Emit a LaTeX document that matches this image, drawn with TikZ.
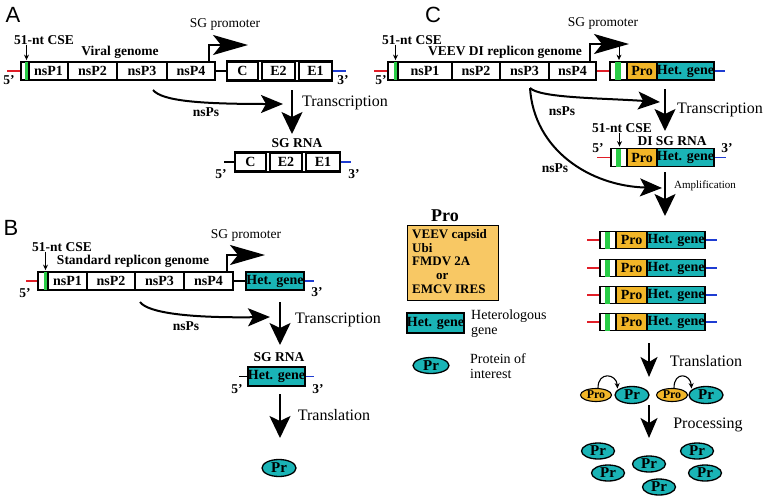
\documentclass[tikz,border=0pt]{standalone}
\usepackage{fontspec}
\setmainfont{Liberation Serif}
\newfontfamily\panelfont{Liberation Sans}
\usetikzlibrary{arrows.meta,calc,shapes.geometric}
\definecolor{cgreen}{RGB}{40,205,70}
\definecolor{hetc}{RGB}{26,180,182}
\definecolor{proy}{RGB}{242,182,40}
\definecolor{legy}{RGB}{248,200,100}
\definecolor{cred}{RGB}{225,30,40}
\definecolor{cblue}{RGB}{30,60,210}
\begin{document}
\begin{tikzpicture}[x=1pt,y=-1pt,
 seg/.style={draw, line width=1.8pt, fill=white, minimum height=18pt, inner sep=0pt, font=\bfseries\fontsize{14}{14}\selectfont},
 het/.style={seg, fill=hetc},
 prob/.style={seg, fill=proy},
 lbl/.style={font=\bfseries\fontsize{13.5}{14}\selectfont, inner sep=0pt},
 txt/.style={font=\fontsize{13.5}{14}\selectfont, inner sep=0pt},
 bigtxt/.style={font=\fontsize{16}{16}\selectfont, inner sep=0pt},
 smalltxt/.style={font=\fontsize{11}{11}\selectfont, inner sep=0pt},
 panel/.style={font=\panelfont\fontsize{22}{22}\selectfont, inner sep=0pt},
 redl/.style={cred, line width=1.8pt},
 bluel/.style={cblue, line width=1.8pt},
 blackl/.style={black, line width=1.8pt},
 bigarrow/.style={line width=2pt, -{Stealth[length=22pt,width=21pt,inset=5pt]}},
 midarrow/.style={line width=2pt, -{Stealth[length=20pt,width=17pt,inset=5pt]}},
 curvearrow/.style={line width=2pt, -{Stealth[length=22pt,width=18pt,inset=5pt]}},
 promarrow/.style={line width=1.8pt, -{Stealth[length=35pt,width=20pt,inset=8pt]}},
 csearrow/.style={line width=1pt, -{Stealth[length=5.5pt,width=5pt]}},
 hookarrow/.style={line width=1.1pt, -{Stealth[length=5.5pt,width=5pt]}},
 prell/.style={ellipse, draw, line width=1.3pt, fill=hetc, minimum width=34pt, minimum height=17pt, inner sep=0pt, font=\bfseries\fontsize{15}{15}\selectfont},
 proell/.style={ellipse, draw, line width=1.1pt, fill=proy, minimum width=31pt, minimum height=13pt, inner sep=0pt, font=\bfseries\fontsize{12}{12}\selectfont}
]
\useasboundingbox (0,0) rectangle (765,498);

% ================= Panel A =================
\node[panel] (lA) at (13,15) {A};
\node[lbl] (cseA) at (44,40) {51-nt CSE};
\node[lbl] (gA) at (120,52) {Viral genome};
\node[txt] (sgpA) at (225,24) {SG promoter};
\node[seg, minimum width=8pt] (sA) at (25,71) {};
\fill[cgreen] ($(sA.north east)+(-5,0.9)$) rectangle ($(sA.south east)+(0,-0.9)$);
\node[seg, minimum width=39pt] (a1) at (48.5,71) {nsP1};
\node[seg, minimum width=49pt] (a2) at (92.5,71) {nsP2};
\node[seg, minimum width=50pt] (a3) at (142,71) {nsP3};
\node[seg, minimum width=48pt] (a4) at (191,71) {nsP4};
\node[seg, minimum width=31pt] (aC) at (242.5,71) {C};
\node[seg, minimum width=33pt] (aE2) at (278.5,71) {E2};
\node[seg, minimum width=33pt] (aE1) at (315.5,71) {E1};
\draw[blackl] (aC.north west) -- (aE1.north east) (aC.south west) -- (aE1.south east);
\draw[blackl] (a4.east) -- (aC.west);
\draw[redl] (sA.west) -- ++(-13,0) coordinate (rA);
\draw[bluel] (aE1.east) -- ++(13,0) coordinate (bA);
\node[lbl] (fA) at (9,80) {5'};
\node[lbl] (tA) at (343,80) {3'};
\coordinate (cseTipA) at ($(sA.north)+(1.5,-1)$);
\draw[csearrow] (cseA.south -| cseTipA) -- (cseTipA);
\coordinate (promA) at (248,45);
\draw[promarrow] ($(a4.north east)+(-7,0)$) |- (promA);
\coordinate (nsA0) at (153,90);
\coordinate (nsA1) at (283,104);
\draw[curvearrow] (nsA0) .. controls (162,101) and (200,104) .. (nsA1);
\node[lbl] (nsAl) at (206,112) {nsPs};
\coordinate (trA0) at (292,90);
\coordinate (trA1) at (292,134);
\draw[bigarrow] (trA0) -- (trA1);
\node[bigtxt] (trAl) at (345,103) {Transcription};
\node[lbl] (sgA) at (297,143) {SG RNA};
\node[seg, minimum width=31pt] (bC) at (250.5,162) {C};
\node[seg, minimum width=32pt] (bE2) at (286,162) {E2};
\node[seg, minimum width=34pt] (bE1) at (323,162) {E1};
\draw[blackl] (bC.north west) -- (bE1.north east) (bC.south west) -- (bE1.south east);
\draw[blackl] (bC.west) -- ++(-10,0);
\draw[bluel] (bE1.east) -- ++(10,0);
\node[lbl] (fA2) at (221,174) {5'};
\node[lbl] (tA2) at (354,174) {3'};

% ================= Panel B =================
\node[panel] (lB) at (11,228) {B};
\node[lbl] (cseB) at (62,247) {51-nt CSE};
\node[lbl] (gB) at (133,261.5) {Standard replicon genome};
\node[txt] (sgpB) at (246,235) {SG promoter};
\node[seg, minimum width=10pt] (sB) at (43,281) {};
\fill[cgreen] ($(sB.north east)+(-5,0.9)$) rectangle ($(sB.south east)+(0,-0.9)$);
\node[seg, minimum width=39pt] (b1) at (67.5,281) {nsP1};
\node[seg, minimum width=48pt] (b2) at (111,281) {nsP2};
\node[seg, minimum width=49pt] (b3) at (159.5,281) {nsP3};
\node[seg, minimum width=49pt] (b4) at (208.5,281) {nsP4};
\node[het, minimum width=58pt] (bH) at (275,281) {Het. gene};
\draw[blackl] (b4.east) -- (bH.west);
\draw[redl] (sB.west) -- ++(-11,0);
\draw[bluel] (bH.east) -- ++(9,0);
\node[lbl] (fB) at (25,293) {5'};
\node[lbl] (tB) at (317,292) {3'};
\coordinate (cseTipB) at ($(sB.north)+(2.5,-1)$);
\draw[csearrow] (cseB.south -| cseTipB) -- (cseTipB);
\coordinate (promB) at (265,255);
\draw[promarrow] ($(b4.north east)+(-7,0)$) |- (promB);
\coordinate (nsB0) at (140,302);
\coordinate (nsB1) at (270,317);
\draw[curvearrow] (nsB0) .. controls (148,313) and (190,318) .. (nsB1);
\node[lbl] (nsBl) at (186,326) {nsPs};
\draw[bigarrow] (280,302) coordinate (trB0) -- (280,345) coordinate (trB1);
\node[bigtxt] (trBl) at (338,320) {Transcription};
\node[lbl] (sgB) at (279,357) {SG RNA};
\node[het, minimum width=57pt, minimum height=19pt] (bH2) at (276.5,376.5) {Het. gene};
\draw[blackl] (bH2.west) -- ++(-8,0);
\draw[bluel] (bH2.east) -- ++(8,0);
\node[lbl] (fB2) at (237,389) {5'};
\node[lbl] (tB2) at (318,389) {3'};
\draw[bigarrow] (280,394) coordinate (tlB0) -- (280,438) coordinate (tlB1);
\node[bigtxt] (tlBl) at (334,415) {Translation};
\node[prell] (prB) at (279,468) {Pr};

% ================= Legend =================
\node[font=\bfseries\fontsize{18}{18}\selectfont, inner sep=0pt] (proT) at (445,216) {Pro};
\node[draw, line width=0.8pt, fill=legy, minimum width=91pt, minimum height=75pt, inner sep=0pt] (proBox) at (452.5,262.5) {};
\node[anchor=north west, align=left, inner sep=0pt, font=\bfseries\fontsize{13}{13.8}\selectfont] (proList) at (412,229)
 {VEEV capsid\\Ubi\\FMDV 2A\\\hspace*{24pt}or\\EMCV IRES};
\node[het, minimum width=57pt, minimum height=20pt] (legH) at (435.5,323) {Het. gene};
\node[anchor=north west, align=left, inner sep=0pt, font=\fontsize{14}{15}\selectfont] (legHt) at (471,310) {Heterologous\\gene};
\node[prell, minimum width=36pt, minimum height=16pt] (legPr) at (431,365.5) {Pr};
\node[anchor=north west, align=left, inner sep=0pt, font=\fontsize{14}{15}\selectfont] (legPrt) at (470,353) {Protein of\\interest};

% ================= Panel C =================
\node[panel] (lC) at (433,15) {C};
\node[lbl] (cseC) at (412,40) {51-nt CSE};
\node[lbl] (gC) at (505,52) {VEEV DI replicon genome};
\node[txt] (sgpC) at (603,23) {SG promoter};
\node[seg, minimum width=10pt] (sC) at (393,71) {};
\fill[cgreen] ($(sC.north east)+(-5,0.9)$) rectangle ($(sC.south east)+(0,-0.9)$);
\node[seg, minimum width=54pt] (c1) at (425,71) {nsP1};
\node[seg, minimum width=48pt] (c2) at (476,71) {nsP2};
\node[seg, minimum width=49pt] (c3) at (524.5,71) {nsP3};
\node[seg, minimum width=47pt] (c4) at (572.5,71) {nsP4};
\node[seg, minimum width=17pt] (dS) at (618.5,71) {};
\fill[cgreen] ($(dS.north west)+(6,0.9)$) rectangle ($(dS.south west)+(12,-0.9)$);
\node[prob, minimum width=30pt] (dP) at (642,71) {Pro};
\node[het, minimum width=57pt] (dH) at (685.5,71) {Het. gene};
\draw[redl] (c4.east) -- (dS.west);
\draw[redl] (sC.west) -- ++(-13,0);
\draw[bluel] (dH.east) -- ++(10,0);
\node[lbl] (fC) at (381,80) {5'};
\coordinate (cseTipC) at ($(sC.north)+(2.5,-1)$);
\draw[csearrow] (cseC.south -| cseTipC) -- (cseTipC);
\coordinate (promC) at (629,44);
\draw[promarrow] ($(c4.north east)+(-7,0)$) |- (promC);
\coordinate (cseTipD) at ($(dS.north)+(0.5,-1)$);
\draw[csearrow] ($(cseTipD)+(0,-16)$) -- (cseTipD);
\coordinate (nsC0) at (530,88);
\coordinate (nsC1) at (660,102);
\coordinate (nsC2) at (662,188);
\draw[curvearrow] (nsC0) .. controls (540,98) and (600,98) .. (nsC1);
\draw[curvearrow] (nsC0) .. controls (534,150) and (590,186) .. (nsC2);
\node[lbl] (nsCl1) at (562,111) {nsPs};
\node[lbl] (nsCl2) at (555,168) {nsPs};
\draw[bigarrow] (665,89) coordinate (trC0) -- (665,131) coordinate (trC1);
\node[bigtxt] (trCl) at (720,110) {Transcription};
\node[lbl] (cseC2) at (622,128) {51-nt CSE};
\node[lbl] (diC) at (672,141) {DI SG RNA};
\node[seg, minimum width=16pt] (eS) at (619,157.5) {};
\fill[cgreen] ($(eS.north west)+(5.5,0.9)$) rectangle ($(eS.south west)+(11,-0.9)$);
\node[prob, minimum width=30pt] (eP) at (642,157.5) {Pro};
\node[het, minimum width=57pt] (eH) at (685.5,157.5) {Het. gene};
\draw[redl] (eS.west) -- ++(-13,0);
\draw[bluel] (eH.east) -- ++(11,0);
\node[lbl] (fC2) at (598,148) {5'};
\node[lbl] (tC2) at (727,148) {3'};
\coordinate (cseTipE) at ($(eS.north)+(0.5,-1)$);
\draw[csearrow] (cseC2.south -| cseTipE) -- (cseTipE);
\draw[bigarrow] (665,172) coordinate (amC0) -- (665,216) coordinate (amC1);
\node[smalltxt] (amCl) at (705,186) {Amplification};
\foreach \i/\y in {1/240,2/268,3/295,4/322}{
  \node[seg, minimum width=16pt, minimum height=17pt] (rS\i) at (608,\y) {};
  \fill[cgreen] ($(rS\i.north west)+(5.5,0.9)$) rectangle ($(rS\i.south west)+(11,-0.9)$);
  \node[prob, minimum width=31pt, minimum height=17pt] (rP\i) at (631.5,\y) {Pro};
  \node[het, minimum width=58pt, minimum height=17pt] (rH\i) at (676,\y) {Het. gene};
  \draw[redl] (rS\i.west) -- ++(-12,0);
  \draw[bluel] (rH\i.east) -- ++(11,0);
}
\draw[midarrow] (649,343) coordinate (tlC0) -- (649,377) coordinate (tlC1);
\node[bigtxt] (tlCl) at (706,361) {Translation};
\node[proell] (po1) at (596,395) {Pro};
\node[prell] (pr1) at (632,395) {Pr};
\node[proell] (po2) at (672,395) {Pro};
\node[prell] (pr2) at (706,395) {Pr};
\draw[hookarrow] ($(po1.north)+(2,0)$) .. controls ($(po1.north)+(2,-17)$) and ($(pr1.north west)+(-3,-15)$) .. ($(pr1.north west)+(-2,0)$);
\draw[hookarrow] ($(po2.north)+(2,0)$) .. controls ($(po2.north)+(2,-17)$) and ($(pr2.north west)+(-3,-15)$) .. ($(pr2.north west)+(-2,0)$);
\draw[midarrow] (649,405) coordinate (pcC0) -- (649,438) coordinate (pcC1);
\node[bigtxt] (pcCl) at (708,425) {Processing};
\node[prell, minimum width=33pt, minimum height=16pt] (q1) at (598,451) {Pr};
\node[prell, minimum width=33pt, minimum height=16pt] (q2) at (608,473) {Pr};
\node[prell, minimum width=33pt, minimum height=16pt] (q3) at (649,464) {Pr};
\node[prell, minimum width=33pt, minimum height=16pt] (q4) at (659,487) {Pr};
\node[prell, minimum width=33pt, minimum height=16pt] (q5) at (697,451) {Pr};
\node[prell, minimum width=33pt, minimum height=16pt] (q6) at (705,473) {Pr};
\end{tikzpicture}
\end{document}
